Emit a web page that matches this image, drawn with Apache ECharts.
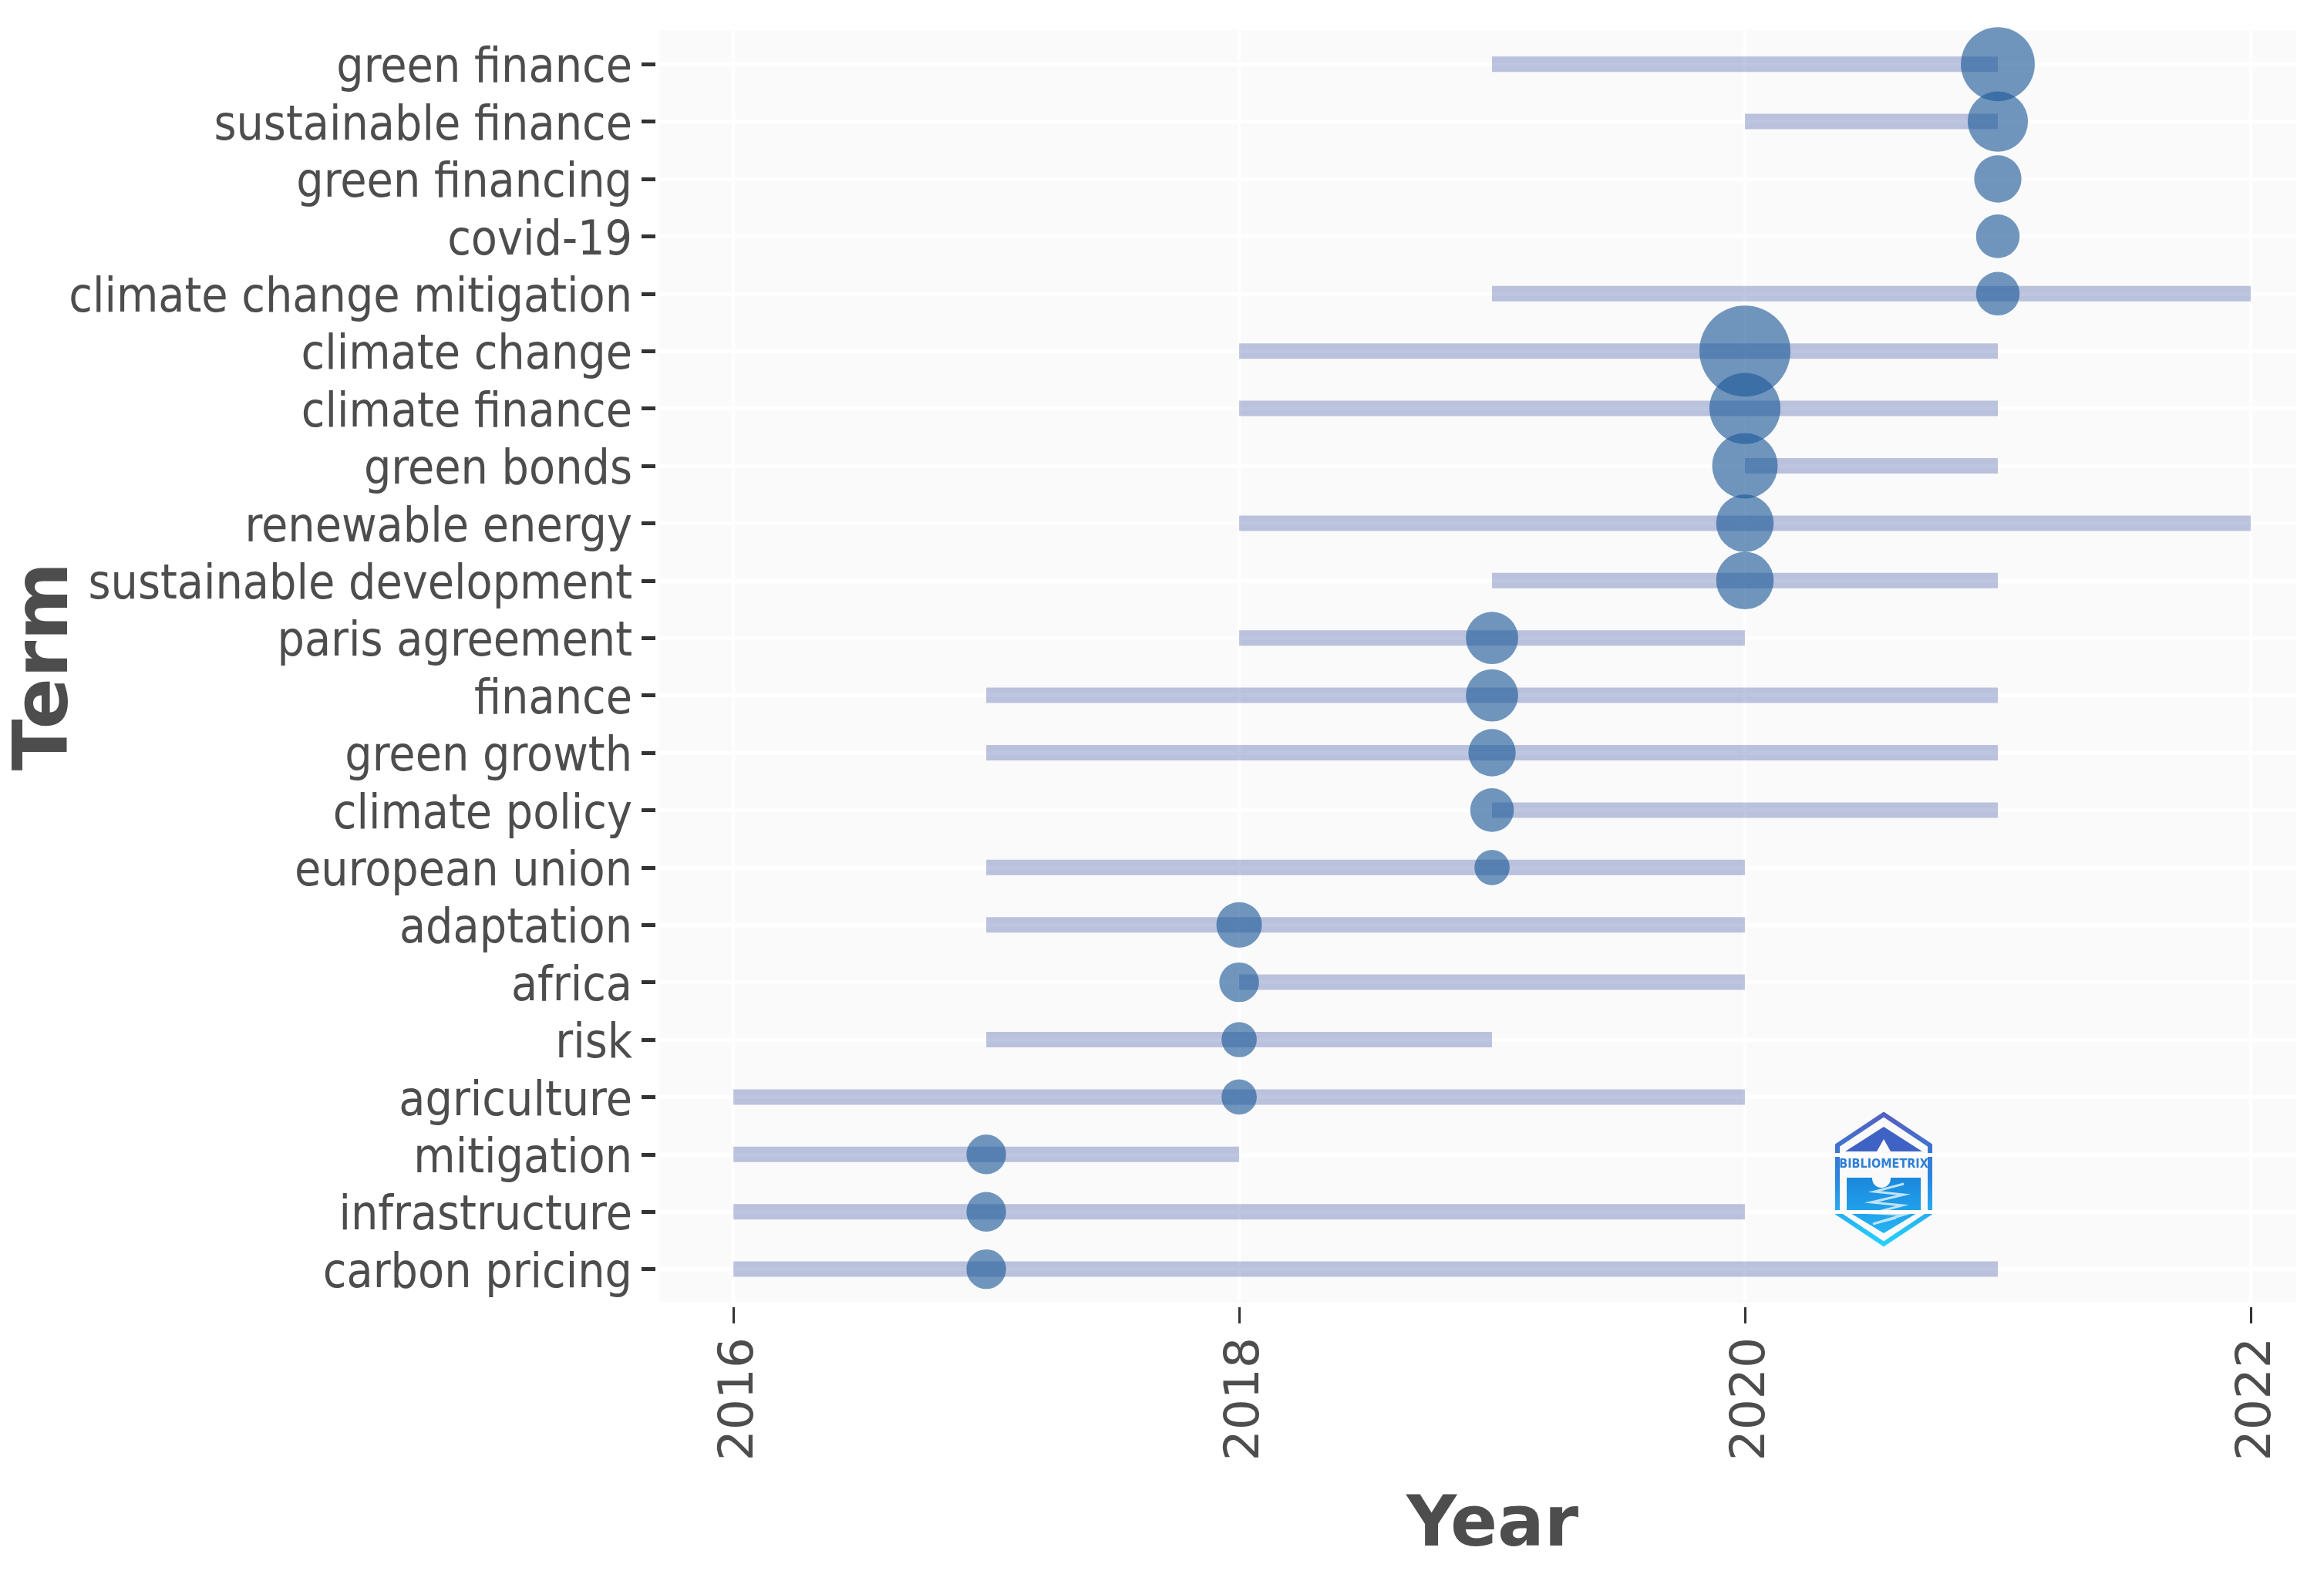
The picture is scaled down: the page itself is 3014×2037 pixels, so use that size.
<!DOCTYPE html>
<html>
<head>
<meta charset="utf-8">
<title>Trend topics</title>
<script src="https://cdn.jsdelivr.net/npm/echarts@6/dist/echarts.min.js"></script>
<style>
html, body { margin: 0; padding: 0; background: #fff; }
#main { width: 3014px; height: 2037px; }
</style>
</head>
<body>
<div id="main"></div>
<script>
// terms from top to bottom of the chart
var terms = ['green finance', 'sustainable finance', 'green financing', 'covid-19',
    'climate change mitigation', 'climate change', 'climate finance', 'green bonds',
    'renewable energy', 'sustainable development', 'paris agreement', 'finance',
    'green growth', 'climate policy', 'european union', 'adaptation', 'africa', 'risk',
    'agriculture', 'mitigation', 'infrastructure', 'carbon pricing'];
var yearQ1 = [2019, 2020, 2021, 2021, 2019, 2018, 2018, 2020, 2018, 2019, 2018,
    2017, 2017, 2019, 2017, 2017, 2018, 2017, 2016, 2016, 2016, 2016];
var yearQ3 = [2021, 2021, 2021, 2021, 2022, 2021, 2021, 2021, 2022, 2021, 2020,
    2021, 2021, 2021, 2020, 2020, 2020, 2019, 2020, 2018, 2020, 2021];
var yearMedian = [2021, 2021, 2021, 2021, 2021, 2020, 2020, 2020, 2020, 2020, 2019,
    2019, 2019, 2019, 2019, 2018, 2018, 2018, 2018, 2017, 2017, 2017];
// term frequency
var termFreq = [66, 44, 27, 23, 23, 100, 61, 52, 40, 40, 33,
    33, 27, 23, 15, 25, 19, 15, 15, 19, 19, 19];
var yearTicks = [2016, 2018, 2020, 2022];

var termIndex = terms.map(function (t, i) { return i; });
var textColor = '#4d4d4d';
var labelFont = '"DejaVu Sans Condensed", "DejaVu Sans", sans-serif';

var myChart = echarts.init(document.getElementById('main'));

var rangeData = terms.map(function (t, i) { return [yearQ1[i], yearQ3[i], i]; });
var bubbleData = terms.map(function (t, i) { return [yearMedian[i], i, termFreq[i]]; });

var option = {
    backgroundColor: '#fff',
    animation: false,
    grid: {
        show: true,
        left: 855,
        top: 39,
        width: 2123,
        height: 1650,
        borderWidth: 0,
        backgroundColor: '#fafafa',
        outerBoundsMode: 'none'
    },
    xAxis: {
        type: 'value',
        min: 2015.707,
        max: 2022.18,
        offset: 6,
        name: 'Year',
        nameLocation: 'middle',
        nameGap: 241,
        nameTextStyle: {
            color: textColor,
            fontFamily: 'DejaVu Sans',
            fontWeight: 'bold',
            fontSize: 90,
            padding: [0, 0, 0, 38]
        },
        axisLine: { show: false, onZero: false },
        axisTick: { length: 21, lineStyle: { color: '#333', width: 3 }, customValues: yearTicks },
        axisLabel: {
            customValues: yearTicks,
            rotate: 90,
            margin: 39,
            verticalAlign: 'top',
            lineHeight: 18,
            color: textColor,
            fontFamily: 'DejaVu Sans',
            fontSize: 63,
            formatter: function (v) { return String(v); }
        },
        splitLine: { show: true, lineStyle: { color: '#fff', width: 4 } }
    },
    yAxis: {
        type: 'value',
        inverse: true,
        min: -0.594,
        max: 21.583,
        offset: 5,
        name: 'Term',
        nameLocation: 'middle',
        nameMoveOverlap: false,
        nameGap: 739,
        nameRotate: 90,
        nameTextStyle: {
            color: textColor,
            fontFamily: 'DejaVu Sans',
            fontWeight: 'bold',
            fontSize: 98
        },
        axisLine: { show: false, onZero: false },
        axisTick: { length: 18, lineStyle: { color: '#333', width: 5 }, customValues: termIndex },
        axisLabel: {
            customValues: termIndex,
            margin: 30,
            verticalAlign: 'top',
            lineHeight: 14,
            color: textColor,
            fontFamily: labelFont,
            fontSize: 62,
            formatter: function (v) { return terms[v]; }
        },
        splitLine: { show: true, lineStyle: { color: '#fff', width: 5 } }
    },
    series: [{
        type: 'custom',
        name: 'Q1-Q3',
        clip: true,
        data: rangeData,
        encode: { x: [0, 1], y: 2 },
        renderItem: function (params, api) {
            var start = api.coord([api.value(0), api.value(2)]);
            var end = api.coord([api.value(1), api.value(2)]);
            return {
                type: 'rect',
                shape: { x: start[0], y: start[1] - 10, width: end[0] - start[0], height: 20 },
                style: { fill: 'rgba(21, 46, 143, 0.28)' }
            };
        }
    }, {
        type: 'scatter',
        name: 'Median year',
        clip: true,
        data: bubbleData,
        symbolSize: function (d) { return 11.8 * Math.sqrt(d[2]); },
        itemStyle: { color: 'rgba(28, 88, 152, 0.625)', opacity: 1 }
    }],
    // bibliometrix logo
    graphic: [{
        type: 'group',
        x: 2443,
        y: 1529,
        children: [{
            type: 'polygon',
            shape: { points: [[0, -84], [60, -44], [60, 44], [0, 84], [-60, 44], [-60, -44]] },
            style: {
                fill: 'transparent',
                lineWidth: 6,
                stroke: {
                    type: 'linear', x: 0, y: 0, x2: 0, y2: 1,
                    colorStops: [{ offset: 0, color: '#5560bf' }, { offset: 0.5, color: '#2a86e0' }, { offset: 1, color: '#27d4ff' }]
                }
            }
        }, {
            type: 'polygon',
            shape: { points: [[0, -68], [50, -36], [-50, -36]] },
            style: { fill: '#3f63c4' }
        }, {
            type: 'polygon',
            shape: { points: [[0, -52], [9, -36], [9, -28], [-9, -28], [-9, -36]] },
            style: { fill: '#fafafa' }
        }, {
            type: 'text',
            style: {
                x: 0, y: -19,
                text: 'BIBLIOMETRIX',
                align: 'center',
                verticalAlign: 'middle',
                fontFamily: 'DejaVu Sans Condensed',
                fontWeight: 'bold',
                fontSize: 16,
                fill: '#2f7fd6'
            }
        }, {
            type: 'polygon',
            shape: { points: [[-48, -2], [48, -2], [48, 41], [0, 70], [-48, 41]] },
            style: {
                fill: {
                    type: 'linear', x: 0, y: 0, x2: 0, y2: 1,
                    colorStops: [{ offset: 0, color: '#1b87dc' }, { offset: 1, color: '#24b4f4' }]
                }
            }
        }, {
            type: 'circle',
            shape: { cx: -3, cy: -1, r: 12 },
            style: { fill: '#fafafa' }
        }, {
            type: 'polyline',
            shape: { points: [[26, 6], [-12, 16], [26, 20], [-16, 30], [24, 34], [-14, 44], [26, 46], [-14, 58], [16, 50]] },
            style: { fill: 'none', stroke: '#bfe3f8', lineWidth: 3 }
        }]
    }]
};

myChart.setOption(option);
</script>
</body>
</html>
